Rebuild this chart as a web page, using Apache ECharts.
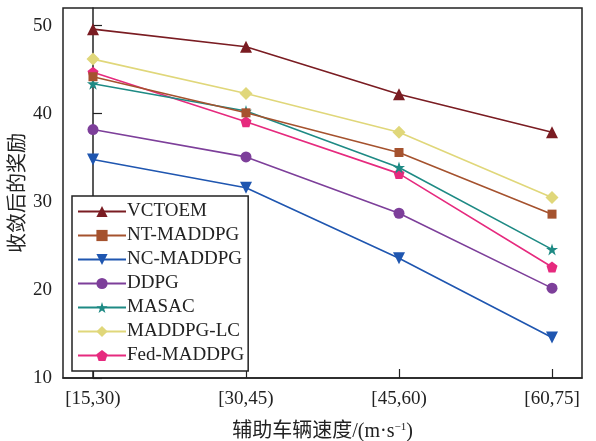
<!DOCTYPE html>
<html>
<head>
<meta charset="utf-8">
<script src="https://cdn.jsdelivr.net/npm/echarts@6/dist/echarts.min.js"></script>
<style>
  html, body { margin: 0; padding: 0; background: #fff; }
  #chart { width: 596px; height: 441px; }
</style>
</head>
<body>
<div id="chart"></div>
<script>
// Speed intervals of the assisting vehicles
const categories = ['[15,30)', '[30,45)', '[45,60)', '[60,75]'];

// Converged reward per method
const seriesNames = ['VCTOEM', 'NT-MADDPG', 'NC-MADDPG', 'DDPG', 'MASAC', 'MADDPG-LC', 'Fed-MADDPG'];
const vctoem    = [49.6, 47.6, 42.2, 37.9];
const ntMaddpg  = [44.2, 40.1, 35.6, 28.6];
const ncMaddpg  = [34.8, 31.6, 23.6, 14.6];
const ddpg      = [38.2, 35.1, 28.7, 20.2];
const masac     = [43.4, 40.3, 33.9, 24.6];
const maddpgLc  = [46.2, 42.3, 37.9, 30.5];
const fedMaddpg = [44.7, 39.1, 33.2, 22.6];

const yTicks = [10, 20, 30, 40, 50];

const seriesData = [vctoem, ntMaddpg, ncMaddpg, ddpg, masac, maddpgLc, fedMaddpg];
const colors = ['#7a1c22', '#a5522e', '#1f56b0', '#7d3f9a', '#1e8a84', '#e0d77a', '#e62a7e'];

const starPath = 'path://M0,-1 L0.2245,-0.309 L0.9511,-0.309 L0.3633,0.118 L0.5878,0.809 L0,0.382 L-0.5878,0.809 L-0.3633,0.118 L-0.9511,-0.309 L-0.2245,-0.309 Z';
const pentagonPath = 'path://M0,-1 L0.9511,-0.309 L0.5878,0.809 L-0.5878,0.809 L-0.9511,-0.309 Z';

const symbols = [
  { symbol: 'triangle', size: 12, rotate: 0 },
  { symbol: 'rect', size: 9, rotate: 0 },
  { symbol: 'triangle', size: 12, rotate: 180 },
  { symbol: 'circle', size: 11, rotate: 0 },
  { symbol: starPath, size: 12, rotate: 0 },
  { symbol: 'diamond', size: 13, rotate: 0 },
  { symbol: pentagonPath, size: 11, rotate: 0 }
];

const serifFont = '"Liberation Serif", "Times New Roman", "Noto Sans CJK SC", serif';

const chart = echarts.init(document.getElementById('chart'), null, { renderer: 'canvas' });

chart.setOption({
  animation: false,
  backgroundColor: '#fff',
  grid: {
    left: 63, right: 14, top: 8, bottom: 63,
    containLabel: false,
    outerBoundsMode: 'none',
    show: true, borderColor: '#222', borderWidth: 1.5, backgroundColor: 'transparent'
  },
  legend: {
    orient: 'vertical',
    left: 72, top: 196,
    width: 180,
    padding: [6, 4, 6, 5],
    itemWidth: 48, itemHeight: 14, itemGap: 5,
    backgroundColor: '#fff',
    borderColor: '#222', borderWidth: 1.5,
    textStyle: { fontFamily: serifFont, fontSize: 19, color: '#222', padding: [0, 0, 0, -4] },
    data: seriesNames
  },
  xAxis: {
    type: 'value',
    min: -0.196, max: 3.196,
    name: '辅助车辆速度/(m·s{sup|−1})',
    nameLocation: 'middle',
    nameGap: 44,
    nameMoveOverlap: false,
    nameTextStyle: {
      fontFamily: serifFont, fontSize: 20, color: '#222',
      rich: { sup: { fontFamily: serifFont, fontSize: 11, verticalAlign: 'top', padding: [0, 0, 8, 0], color: '#222' } }
    },
    axisLine: { show: true, lineStyle: { color: '#222', width: 1.5 } },
    axisTick: { show: true, inside: true, length: 9, customValues: [0, 1, 2, 3], lineStyle: { color: '#222', width: 1.2 } },
    axisLabel: {
      customValues: [0, 1, 2, 3],
      formatter: v => categories[Math.round(v)],
      fontFamily: serifFont, fontSize: 19, color: '#222', margin: 12
    },
    splitLine: { show: false }
  },
  yAxis: {
    type: 'value',
    min: 10, max: 52,
    name: '收敛后的奖励',
    nameLocation: 'middle',
    nameGap: 37,
    nameMoveOverlap: false,
    nameTextStyle: { fontFamily: '"Noto Sans CJK SC", sans-serif', fontSize: 20, color: '#222' },
    axisLine: { show: true, lineStyle: { color: '#222', width: 1.5 } },
    axisTick: { show: true, inside: true, length: 9, customValues: yTicks, lineStyle: { color: '#222', width: 1.2 } },
    axisLabel: { customValues: yTicks, fontFamily: serifFont, fontSize: 19, color: '#222', margin: 11 },
    splitLine: { show: false }
  },
  series: seriesNames.map((name, i) => ({
    name: name,
    type: 'line',
    data: seriesData[i].map((v, j) => [j, v]),
    color: colors[i],
    symbol: symbols[i].symbol,
    symbolSize: symbols[i].size,
    symbolRotate: symbols[i].rotate,
    showAllSymbol: true,
    lineStyle: { width: 1.6, color: colors[i] },
    itemStyle: { color: colors[i] },
    z: 10 - i
  }))
});
</script>
</body>
</html>
